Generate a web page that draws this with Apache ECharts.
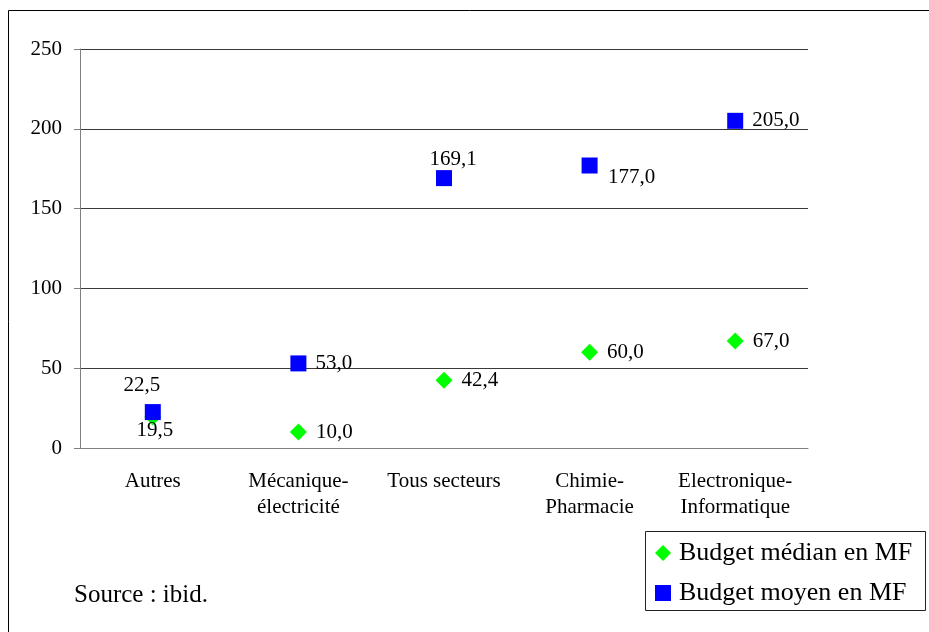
<!DOCTYPE html>
<html>
<head>
<meta charset="utf-8">
<script src="https://cdn.jsdelivr.net/npm/echarts@6/dist/echarts.min.js"></script>
<style>
html,body{margin:0;padding:0;background:#fff;}
#chart{width:929px;height:632px;}
</style>
</head>
<body>
<div id="chart"></div>
<script>
var categories = ['Autres', 'Mécanique-\nélectricité', 'Tous secteurs', 'Chimie-\nPharmacie', 'Electronique-\nInformatique'];
var medianValues = [19.5, 10.0, 42.4, 60.0, 67.0];
var meanValues = [22.5, 53.0, 169.1, 177.0, 205.0];
var yTicks = [0, 50, 100, 150, 200, 250];
var seriesNames = ['Budget médian en MF', 'Budget moyen en MF'];
var sourceText = 'Source : ibid.';

var FONT = "'Liberation Serif', 'Times New Roman', serif";
function fmt(v) { return v.toFixed(1).replace('.', ','); }

// label placement overrides (style only)
var medianLabelOverrides = { 0: { position: 'inside', offset: [2, 14] } };
var meanLabelOverrides = {
  0: { position: 'inside', offset: [-11, -27] },
  2: { position: 'inside', offset: [9, -19] },
  3: { position: 'inside', offset: [42, 12] }
};

function buildData(values, overrides) {
  return values.map(function (v, i) {
    var d = { value: v };
    if (overrides[i]) d.label = overrides[i];
    return d;
  });
}

var labelStyle = {
  show: true,
  position: 'right',
  distance: 9,
  color: '#000',
  fontFamily: FONT,
  fontSize: 21,
  formatter: function (p) { return fmt(p.value); }
};

var chart = echarts.init(document.getElementById('chart'), null, { renderer: 'canvas' });
chart.setOption({
  animation: false,
  backgroundColor: '#fff',
  grid: { left: 80, top: 49, right: 121, bottom: 184, containLabel: false },
  xAxis: {
    type: 'category',
    data: categories,
    boundaryGap: true,
    axisLine: { show: true, lineStyle: { color: '#808080', width: 1 } },
    axisTick: { show: false },
    axisLabel: { color: '#000', fontFamily: FONT, fontSize: 21, lineHeight: 26.5, margin: 20, interval: 0 },
    splitLine: { show: false }
  },
  yAxis: {
    type: 'value',
    min: yTicks[0],
    max: yTicks[yTicks.length - 1],
    interval: yTicks[1] - yTicks[0],
    axisLine: { show: true, lineStyle: { color: '#808080', width: 1 } },
    axisTick: { show: true, length: 6, inside: false, lineStyle: { color: '#808080' } },
    axisLabel: { color: '#000', fontFamily: FONT, fontSize: 21, margin: 18 },
    splitLine: { show: true, lineStyle: { color: '#3a3a3a', width: 1 } }
  },
  legend: {
    orient: 'vertical',
    left: 655,
    top: 540,
    itemWidth: 16,
    itemHeight: 16,
    itemGap: 14,
    padding: 0,
    textStyle: { color: '#000', fontFamily: FONT, fontSize: 26, lineHeight: 26, padding: [0, 0, 0, 3] },
    data: [
      { name: seriesNames[0], icon: 'diamond', itemStyle: { color: '#00FF00', opacity: 1 } },
      { name: seriesNames[1], icon: 'rect', itemStyle: { color: '#0000FF', opacity: 1 } }
    ]
  },
  graphic: [
    { type: 'rect', z: -10, silent: true, shape: { x: 8.5, y: 10.5, width: 1000, height: 1000 },
      style: { fill: 'none', stroke: '#000', lineWidth: 1 } },
    { type: 'rect', z: 10, silent: true, shape: { x: 645.5, y: 531.5, width: 280, height: 79 },
      style: { fill: 'none', stroke: '#222', lineWidth: 1 } },
    { type: 'text', z: 10, silent: true, left: 74, top: 583,
      style: { text: sourceText, fill: '#000', font: '25px ' + FONT } }
  ],
  series: [
    {
      name: seriesNames[0],
      type: 'scatter',
      symbol: 'diamond',
      symbolSize: 17,
      itemStyle: { color: '#00FF00', opacity: 1 },
      label: labelStyle,
      data: buildData(medianValues, medianLabelOverrides),
      z: 2
    },
    {
      name: seriesNames[1],
      type: 'scatter',
      symbol: 'rect',
      symbolSize: 16,
      itemStyle: { color: '#0000FF', opacity: 1 },
      label: labelStyle,
      data: buildData(meanValues, meanLabelOverrides),
      z: 3
    }
  ]
});
</script>
</body>
</html>
